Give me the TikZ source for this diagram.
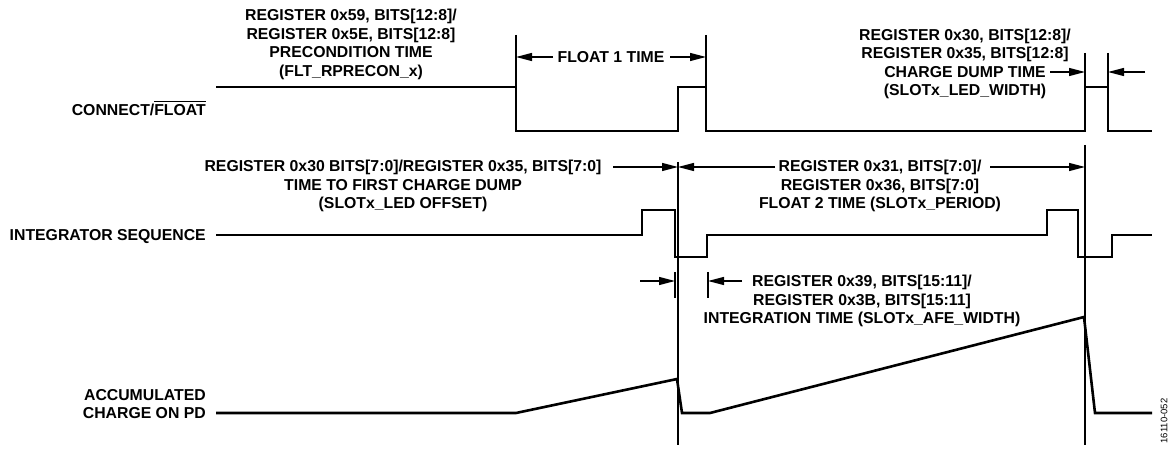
\documentclass[tikz,border=0pt]{standalone}
\usepackage{fontspec}
\setmainfont{Liberation Sans}
\usetikzlibrary{arrows.meta}
\newcommand\myovl[1]{\setbox0\hbox{#1}\rlap{\rule[\dimexpr\ht0+2.2pt\relax]{\wd0}{1.2pt}}\box0}
\begin{document}
\begin{tikzpicture}[x=1pt,y=-1pt,
  lbl/.style={font=\bfseries\fontsize{15.8}{18.4}\selectfont, inner sep=0pt, align=center},
  sig/.style={line width=2.6pt, line join=miter, line cap=butt},
  refline/.style={line width=1.2pt},
  dim/.style={line width=1.3pt, -{Triangle[length=16pt,width=8pt]}},
]
\useasboundingbox (0,0) rectangle (1171,449);

% waveforms
\draw[sig] (216,87) -- (516,87) -- (516,131) -- (678,131) -- (678,87) -- (706,87)
  -- (706,131) -- (1085,131) -- (1085,87) -- (1108,87) -- (1108,131) -- (1152,131);
\draw[sig] (216,235) -- (642,235) -- (642,210) -- (675,210) -- (675,257) -- (707,257)
  -- (707,235) -- (1047,235) -- (1047,210) -- (1078,210) -- (1078,257) -- (1112,257)
  -- (1112,235) -- (1152,235);
\draw[sig] (216,413) -- (516,413) -- (677,379) -- (682,413) -- (710,413) -- (1084,317)
  -- (1095,413) -- (1152,413);

% reference lines and ticks
\coordinate (v1t) at (678,162); \coordinate (v1b) at (678,445);
\coordinate (v2t) at (1085,145); \coordinate (v2b) at (1085,445);
\draw[refline] (v1t) -- (v1b);
\draw[refline] (v2t) -- (v2b);
\coordinate (t1a) at (516,35); \coordinate (t1b) at (516,87);
\coordinate (t2a) at (706,35); \coordinate (t2b) at (706,87);
\coordinate (t3a) at (1085,53); \coordinate (t3b) at (1085,87);
\coordinate (t4a) at (1108,53); \coordinate (t4b) at (1108,87);
\coordinate (t5a) at (675,272); \coordinate (t5b) at (675,298);
\coordinate (t6a) at (708,272); \coordinate (t6b) at (708,298);
\foreach \t in {1,...,6} {\draw[refline] (t\t a) -- (t\t b);}

% text (anchor base = baseline of the last line)
\node[lbl, anchor=base] (pre) at (351,76.2)
  {REGISTER 0x59, BITS[12:8]/\\REGISTER 0x5E, BITS[12:8]\\PRECONDITION TIME\\(FLT\_RPRECON\_x)};
\node[lbl, anchor=base] (f1) at (611,62.7) {FLOAT 1 TIME};
\node[lbl, anchor=base] (cd) at (965,95.7)
  {REGISTER 0x30, BITS[12:8]/\\REGISTER 0x35, BITS[12:8]\\CHARGE DUMP TIME\\(SLOTx\_LED\_WIDTH)};
\node[lbl, anchor=base east] (cf) at (206,115.7) {CONNECT/\myovl{FLOAT}};
\node[lbl, anchor=base] (fd) at (403,208.7)
  {REGISTER 0x30 BITS[7:0]/REGISTER 0x35, BITS[7:0]\\TIME TO FIRST CHARGE DUMP\\(SLOTx\_LED OFFSET)};
\node[lbl, anchor=base] (f2) at (880,208.7)
  {REGISTER 0x31, BITS[7:0]/\\REGISTER 0x36, BITS[7:0]\\FLOAT 2 TIME (SLOTx\_PERIOD)};
\node[lbl, anchor=base east] (is) at (206,240.7) {INTEGRATOR SEQUENCE};
\node[lbl, anchor=base] (it) at (862,323.7)
  {REGISTER 0x39, BITS[15:11]/\\REGISTER 0x3B, BITS[15:11]\\INTEGRATION TIME (SLOTx\_AFE\_WIDTH)};
\node[lbl, anchor=base east, align=right] (ac) at (206,418.7) {ACCUMULATED\\CHARGE ON PD};
\node[font=\fontsize{9.5}{10}\selectfont, inner sep=0pt, rotate=90] (id) at (1164,421) {16110-052};

% dimension arrows
\coordinate (a1s) at (553,57); \coordinate (a1e) at (516,57);
\coordinate (a2s) at (670,57); \coordinate (a2e) at (706,57);
\coordinate (a3s) at (1050,72); \coordinate (a3e) at (1085,72);
\coordinate (a4s) at (1145,72); \coordinate (a4e) at (1108,72);
\coordinate (a5s) at (613,167); \coordinate (a5e) at (678,167);
\coordinate (a6s) at (775,167); \coordinate (a6e) at (678,167);
\coordinate (a7s) at (990,167); \coordinate (a7e) at (1085,167);
\coordinate (a8s) at (640,281); \coordinate (a8e) at (675,281);
\coordinate (a9s) at (742,281); \coordinate (a9e) at (708,281);
\foreach \a in {1,...,9} {\draw[dim] (a\a s) -- (a\a e);}
\end{tikzpicture}
\end{document}
